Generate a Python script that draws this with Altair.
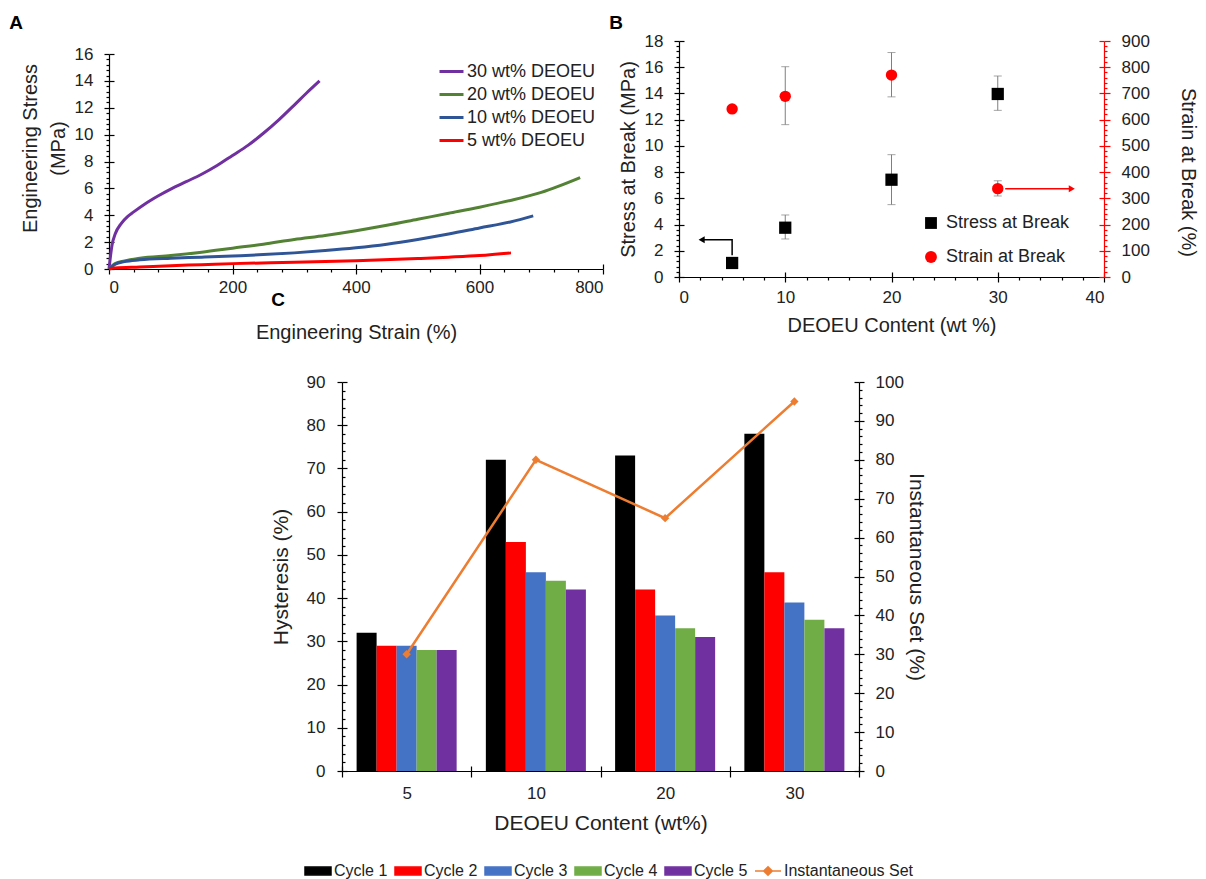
import altair as alt
import pandas as pd

FONT = "Liberation Sans"
INK = "#222222"
GRAY = "#7f7f7f"
RED = "#FF0000"
W, H = 1190, 871   # single drawing area; every panel gets its own scale ranges inside it

# ---------------- Panel A : stress-strain curves ----------------
A_SERIES = ["30 wt% DEOEU", "20 wt% DEOEU", "10 wt% DEOEU", "5 wt% DEOEU"]
A_COLORS = ["#7030A0", "#548235", "#2F5597", "#FF0000"]
strain_30 = [0, 2, 5, 10, 20, 30, 40, 60, 80, 100, 125, 150, 175, 200, 225, 250, 275, 300, 320, 341]
stress_30 = [0, 0.8, 1.8, 2.6, 3.4, 3.9, 4.25, 4.9, 5.45, 5.95, 6.5, 7.05, 7.7, 8.45, 9.2, 10.1, 11.1, 12.2, 13.1, 14.0]
strain_20 = [0, 10, 25, 50, 100, 150, 200, 250, 300, 350, 400, 450, 500, 550, 600, 650, 700, 763]
stress_20 = [0, 0.4, 0.6, 0.8, 1.0, 1.25, 1.55, 1.85, 2.2, 2.5, 2.85, 3.25, 3.7, 4.15, 4.6, 5.1, 5.7, 6.8]
strain_10 = [0, 10, 25, 50, 100, 150, 200, 250, 300, 350, 400, 450, 500, 550, 600, 650, 687]
stress_10 = [0, 0.35, 0.55, 0.68, 0.8, 0.88, 0.97, 1.07, 1.2, 1.37, 1.58, 1.85, 2.2, 2.6, 3.05, 3.5, 3.95]
strain_5 = [0, 10, 50, 100, 150, 200, 300, 400, 500, 550, 600, 651]
stress_5 = [0, 0.08, 0.15, 0.25, 0.32, 0.4, 0.5, 0.62, 0.78, 0.88, 1.0, 1.2]
A_X_MAJOR = [0, 200, 400, 600, 800]
A_X_MINOR = [v for v in range(0, 801, 40) if v % 200]
A_Y_MAJOR = list(range(0, 17, 2))
A_Y_MINOR = [round(v * 0.4, 1) for v in range(0, 41) if v % 5]

# ---------------- Panel B : break properties ----------------
B_SERIES = ["Stress at Break", "Strain at Break"]
B_COLORS = ["#000000", "#FF0000"]
B_SHAPES = ["square", "circle"]
wt_content = [5, 10, 20, 30]
stress_break = [1.07, 3.76, 7.42, 13.96]
stress_lo = [1.0, 2.9, 5.52, 12.71]
stress_hi = [1.15, 4.73, 9.33, 15.33]
strain_break = [641, 689, 770, 337]
strain_lo = [635, 581, 687, 309]
strain_hi = [647, 802, 856, 367]
arrow_black_x = [5, 5, 2.13]
arrow_black_y = [1.65, 2.85, 2.85]
arrow_red_x = [30.7, 36.97]
arrow_red_y = [337, 337]
B_X_MAJOR = [0, 10, 20, 30, 40]
B_X_MINOR = [v for v in range(0, 41, 2) if v % 10]
B_Y_MAJOR = list(range(0, 19, 2))
B_Y_MINOR = [round(v * 0.4, 1) for v in range(0, 46) if v % 5]
B_Y2_MAJOR = list(range(0, 901, 100))
B_Y2_MINOR = [v for v in range(0, 901, 20) if v % 100]

# ---------------- Panel C : hysteresis ----------------
C_CATS = ["5", "10", "20", "30"]
CYCLES = ["Cycle 1", "Cycle 2", "Cycle 3", "Cycle 4", "Cycle 5"]
CYCLE_COLORS = ["#000000", "#FF0000", "#4472C4", "#70AD47", "#7030A0"]
cycle1 = [32, 72, 73, 78]
cycle2 = [29, 53, 42, 46]
cycle3 = [29, 46, 36, 39]
cycle4 = [28, 44, 33, 35]
cycle5 = [28, 42, 31, 33]
inst_set = [30, 80, 65, 95]
SET_NAME = "Instantaneous Set"
SET_COLOR = "#ED7D31"
LEG_SERIES = CYCLES + [SET_NAME]
LEG_COLORS = CYCLE_COLORS + [SET_COLOR]
RECT = "M-1,-0.3H1V0.3H-1Z"
LINE_DIAMOND = "M-1,0H1M0,-0.33L0.33,0L0,0.33L-0.33,0Z"
LEG_SHAPES = [RECT] * 5 + [LINE_DIAMOND]
C_Y_MAJOR = list(range(0, 91, 10))
C_Y_MINOR = [v for v in range(0, 91, 2) if v % 10]
C_Y2_MAJOR = list(range(0, 101, 10))
C_Y2_MINOR = [v for v in range(0, 101, 2) if v % 10]

# ---------------- panel frames (pixel extents inside the drawing area) ----------------
A_L, A_R, A_T, A_B = 101, 595, 46, 261
B_L, B_R, B_T, B_B = 671, 1096, 33, 269
C_L, C_R, C_T, C_B = 334, 851, 374, 763


def tick_axis(orient, offset, values=None, size=3, color="black", band=False):
    kw = dict(orient=orient, labels=False, domain=False, offset=offset, title=None,
              tickSize=size, tickColor=color, grid=False)
    if values is not None:
        kw["values"] = values
    if band:
        kw["tickBand"] = "extent"
    return alt.Axis(**kw)


def ghost(df, x=None, y=None):
    enc = {}
    if x is not None:
        enc["x"] = x
    if y is not None:
        enc["y"] = y
    return alt.Chart(df).mark_point(opacity=0).encode(**enc)


def panel_label(letter, px, py):
    return alt.Chart(pd.DataFrame({"label": [letter]})).mark_text(
        fontSize=19, fontWeight="bold", font=FONT, color="black",
        align="center", baseline="middle"
    ).encode(x=alt.value(px), y=alt.value(py), text="label:N")


layers = []

# ----- Panel A -----
rows = []
for name, xs, ys in zip(A_SERIES, [strain_30, strain_20, strain_10, strain_5],
                        [stress_30, stress_20, stress_10, stress_5]):
    for x, y in zip(xs, ys):
        rows.append({"series": name, "strain": x, "stress": y})
dfA = pd.DataFrame(rows)

xA = alt.Scale(domain=[0, 800], nice=False, zero=False, range=[A_L, A_R])
yA = alt.Scale(domain=[0, 16], nice=False, zero=False, range=[A_B, A_T])

layers.append(alt.Chart(dfA).mark_line(strokeWidth=3, interpolate="monotone").encode(
    x=alt.X("strain:Q", scale=xA, axis=alt.Axis(
        orient="bottom", offset=A_B - H, values=A_X_MAJOR, title="Engineering Strain (%)",
        tickSize=5, labelPadding=5, titleY=63, titleBaseline="middle")),
    y=alt.Y("stress:Q", scale=yA, axis=alt.Axis(
        orient="left", offset=-A_L, values=A_Y_MAJOR, title=["Engineering Stress", "(MPa)"],
        tickSize=5, labelPadding=11, titleX=-79, titleY=140, titleAngle=270,
        titleBaseline="middle", titleLineHeight=28)),
    color=alt.Color("series:N", scale=alt.Scale(domain=A_SERIES, range=A_COLORS),
                    legend=alt.Legend(title=None, orient="none", legendX=430, legendY=50,
                                      symbolType="stroke", symbolSize=576, symbolStrokeWidth=3,
                                      labelFontSize=18, rowPadding=0, labelOffset=2)),
))
layers.append(ghost(dfA, x=alt.X("strain:Q", scale=xA, axis=tick_axis("bottom", A_B - H, A_X_MINOR)),
                    y=alt.Y("stress:Q", scale=yA, axis=tick_axis("left", -A_L, A_Y_MINOR))))
layers.append(ghost(dfA, x=alt.X("strain:Q", scale=xA, axis=tick_axis("top", -A_B, A_X_MAJOR, 5)),
                    y=alt.Y("stress:Q", scale=yA, axis=tick_axis("right", A_L - W, A_Y_MAJOR, 5))))

# ----- Panel B -----
dfS = pd.DataFrame({"wt": wt_content, "val": stress_break, "lo": stress_lo,
                    "hi": stress_hi, "series": B_SERIES[0]})
dfE = pd.DataFrame({"wt": wt_content, "val": strain_break, "lo": strain_lo,
                    "hi": strain_hi, "series": B_SERIES[1]})
dfArB = pd.DataFrame({"x": arrow_black_x, "y": arrow_black_y, "o": [0, 1, 2]})
dfArR = pd.DataFrame({"x": arrow_red_x, "y": arrow_red_y, "o": [0, 1]})

xB = alt.Scale(domain=[0, 40], nice=False, zero=False, range=[B_L, B_R])
yB = alt.Scale(domain=[0, 18], nice=False, zero=False, range=[B_B, B_T])
yB2 = alt.Scale(domain=[0, 900], nice=False, zero=False, range=[B_B, B_T])
b_color = alt.Scale(domain=B_SERIES, range=B_COLORS)
b_shape = alt.Scale(domain=B_SERIES, range=B_SHAPES)
b_legend = alt.Legend(title=None, orient="none", legendX=914, legendY=206,
                      symbolSize=140, labelFontSize=18, rowPadding=16, labelOffset=6)

for df, ys in [(dfS, yB), (dfE, yB2)]:
    xs = alt.X("wt:Q", scale=xB, axis=None)
    layers.append(alt.Chart(df).mark_rule(color=GRAY, strokeWidth=1).encode(
        x=xs, y=alt.Y("lo:Q", scale=ys, axis=None), y2="hi:Q"))
    for col in ["lo", "hi"]:
        layers.append(alt.Chart(df).mark_tick(orient="horizontal", size=8, thickness=1,
                                              color=GRAY).encode(
            x=xs, y=alt.Y(f"{col}:Q", scale=ys, axis=None)))

layers.append(alt.Chart(dfS).mark_point(shape="square", filled=True, size=150, opacity=1).encode(
    x=alt.X("wt:Q", scale=xB, axis=alt.Axis(
        orient="bottom", offset=B_B - H, values=B_X_MAJOR, title="DEOEU Content (wt %)",
        tickSize=5, labelPadding=7, titleY=48, titleBaseline="middle")),
    y=alt.Y("val:Q", scale=yB, axis=alt.Axis(
        orient="left", offset=-B_L, values=B_Y_MAJOR, title="Stress at Break (MPa)",
        tickSize=5, labelPadding=11, titleX=-51, titleBaseline="middle")),
    color=alt.Color("series:N", scale=b_color, legend=b_legend),
    shape=alt.Shape("series:N", scale=b_shape, legend=b_legend),
))
layers.append(alt.Chart(dfE).mark_point(shape="circle", filled=True, size=130, opacity=1).encode(
    x=alt.X("wt:Q", scale=xB, axis=None),
    y=alt.Y("val:Q", scale=yB2, axis=alt.Axis(
        orient="right", offset=B_R - W, values=B_Y2_MAJOR, title="Strain at Break (%)",
        domainColor=RED, tickColor=RED, tickSize=6, labelPadding=11,
        titleX=83, titleY=164, titleAngle=90, titleBaseline="middle")),
    color=alt.Color("series:N", scale=b_color, legend=None),
    shape=alt.Shape("series:N", scale=b_shape, legend=None),
))
layers.append(alt.Chart(dfArB).mark_line(color="black", strokeWidth=1.5).encode(
    x=alt.X("x:Q", scale=xB, axis=None), y=alt.Y("y:Q", scale=yB, axis=None), order="o:Q"))
layers.append(alt.Chart(dfArB.tail(1)).mark_point(
    shape="triangle-left", filled=True, size=49, color="black", opacity=1).encode(
    x=alt.X("x:Q", scale=xB, axis=None), y=alt.Y("y:Q", scale=yB, axis=None)))
layers.append(alt.Chart(dfArR).mark_line(color=RED, strokeWidth=1.5).encode(
    x=alt.X("x:Q", scale=xB, axis=None), y=alt.Y("y:Q", scale=yB2, axis=None), order="o:Q"))
layers.append(alt.Chart(dfArR.tail(1)).mark_point(
    shape="triangle-right", filled=True, size=49, color=RED, opacity=1).encode(
    x=alt.X("x:Q", scale=xB, axis=None), y=alt.Y("y:Q", scale=yB2, axis=None)))
layers.append(ghost(dfS, x=alt.X("wt:Q", scale=xB, axis=tick_axis("bottom", B_B - H, B_X_MINOR)),
                    y=alt.Y("val:Q", scale=yB, axis=tick_axis("left", -B_L, B_Y_MINOR))))
layers.append(ghost(dfS, x=alt.X("wt:Q", scale=xB, axis=tick_axis("top", -B_B, B_X_MAJOR, 5)),
                    y=alt.Y("val:Q", scale=yB, axis=tick_axis("right", B_L - W, B_Y_MAJOR, 5))))
layers.append(ghost(dfE, y=alt.Y("val:Q", scale=yB2, axis=tick_axis("right", B_R - W, B_Y2_MINOR, 3, RED))))
layers.append(ghost(dfE, y=alt.Y("val:Q", scale=yB2, axis=tick_axis("left", -B_R, B_Y2_MAJOR, 5, RED))))

# ----- Panel C -----
rows = []
for cyc, vals in zip(CYCLES, [cycle1, cycle2, cycle3, cycle4, cycle5]):
    for cat, v in zip(C_CATS, vals):
        rows.append({"cat": cat, "cycle": cyc, "hyst": v})
dfC = pd.DataFrame(rows)
dfSet = pd.DataFrame({"cat": C_CATS, "set": inst_set, "idx": [0, 1, 2, 3]})
dfLeg = pd.DataFrame({"series": LEG_SERIES})

xC = alt.Scale(type="band", domain=C_CATS, paddingInner=0, paddingOuter=0, range=[C_L, C_R])
yC = alt.Scale(domain=[0, 90], nice=False, zero=False, range=[C_B, C_T])
yC2 = alt.Scale(domain=[0, 100], nice=False, zero=False, range=[C_B, C_T])

layers.append(alt.Chart(dfC).mark_bar().encode(
    x=alt.X("cat:N", scale=xC, sort=C_CATS, axis=alt.Axis(
        orient="bottom", offset=C_B - H, tickBand="extent", labelAngle=0,
        title="DEOEU Content (wt%)", tickSize=6, labelPadding=8, titleY=52,
        titleBaseline="middle", titleFontSize=21)),
    xOffset=alt.XOffset("cycle:N", sort=CYCLES,
                        scale=alt.Scale(domain=CYCLES, paddingInner=0, paddingOuter=0.73)),
    y=alt.Y("hyst:Q", scale=yC, axis=alt.Axis(
        orient="left", offset=-C_L, values=C_Y_MAJOR, title="Hysteresis (%)", tickSize=5,
        labelPadding=12, titleX=-61, titleBaseline="middle", titleFontSize=21)),
    color=alt.Color("cycle:N", scale=alt.Scale(domain=CYCLES, range=CYCLE_COLORS), legend=None),
))
layers.append(ghost(dfC, x=alt.X("cat:N", scale=xC, sort=C_CATS,
                                 axis=tick_axis("top", -C_B, None, 5, band=True)),
                    y=alt.Y("hyst:Q", scale=yC, axis=tick_axis("right", C_L - W, C_Y_MINOR))))
layers.append(ghost(dfC, y=alt.Y("hyst:Q", scale=yC, axis=tick_axis("right", C_L - W, C_Y_MAJOR, 5))))

layers.append(alt.Chart(dfSet).mark_line(color=SET_COLOR, strokeWidth=2.5).encode(
    x=alt.X("cat:N", scale=xC, sort=C_CATS, axis=None),
    y=alt.Y("set:Q", scale=yC2, axis=alt.Axis(
        orient="right", offset=C_R - W, values=C_Y2_MAJOR, title="Instantaneous Set (%)",
        tickSize=5, labelPadding=11, titleX=56, titleAngle=90, titleBaseline="middle",
        titleFontSize=21)),
    order="idx:Q",
))
layers.append(alt.Chart(dfSet).mark_point(shape="diamond", filled=True, size=70,
                                          color=SET_COLOR, opacity=1).encode(
    x=alt.X("cat:N", scale=xC, sort=C_CATS, axis=None),
    y=alt.Y("set:Q", scale=yC2, axis=None),
))
layers.append(ghost(dfSet, y=alt.Y("set:Q", scale=yC2, axis=tick_axis("right", C_R - W, C_Y2_MINOR))))
layers.append(ghost(dfSet, y=alt.Y("set:Q", scale=yC2, axis=tick_axis("left", -C_R, C_Y2_MAJOR, 5))))

c_legend = alt.Legend(title=None, orient="none", direction="horizontal", columns=6,
                      legendX=296, legendY=849, symbolSize=676, symbolStrokeWidth=1.5,
                      symbolOpacity=1, labelFontSize=16, labelOffset=2, columnPadding=4)
layers.append(alt.Chart(dfLeg).mark_point(filled=True, opacity=0).encode(
    x=alt.value((C_L + C_R) / 2), y=alt.value((C_T + C_B) / 2),
    fill=alt.Fill("series:N", scale=alt.Scale(domain=LEG_SERIES, range=LEG_COLORS), legend=c_legend),
    stroke=alt.Stroke("series:N", scale=alt.Scale(domain=LEG_SERIES, range=LEG_COLORS), legend=c_legend),
    shape=alt.Shape("series:N", scale=alt.Scale(domain=LEG_SERIES, range=LEG_SHAPES), legend=c_legend),
))

# ----- panel letters -----
layers += [panel_label("A", 8, 15), panel_label("B", 608, 15), panel_label("C", 270, 292)]

chart = alt.layer(*layers).resolve_scale(
    x="independent", y="independent", color="independent", shape="independent",
    fill="independent", stroke="independent", xOffset="independent",
).resolve_axis(x="independent", y="independent").properties(
    width=W, height=H, padding=0
).configure_view(stroke=None).configure_axis(
    labelFont=FONT, titleFont=FONT, labelColor=INK, titleColor=INK,
    labelFontSize=17, titleFontSize=20, titleFontWeight="normal",
    domainColor="black", tickColor="black", domainWidth=1.2, tickWidth=1.2, grid=False,
).configure_legend(
    labelFont=FONT, labelColor=INK
)

chart.save("out.html", embed_options={"renderer": "svg", "actions": False})
